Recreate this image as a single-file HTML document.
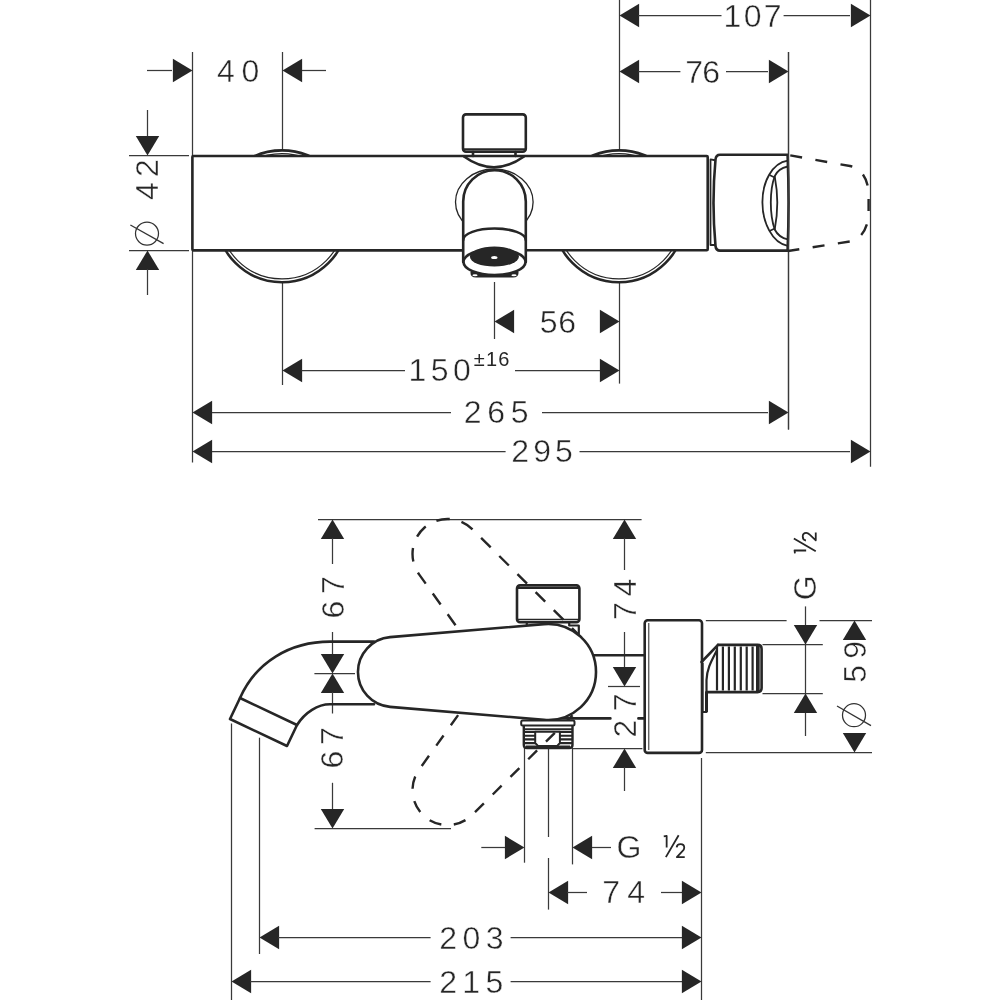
<!DOCTYPE html>
<html><head><meta charset="utf-8"><style>
html,body{margin:0;padding:0;background:#fff;}
svg{display:block;}
text{font-family:"Liberation Sans",sans-serif;}
#d{will-change:transform;}
</style></head><body>
<svg id="d" width="1000" height="1000" viewBox="0 0 1000 1000">
<rect width="1000" height="1000" fill="#fff"/>
<line x1="192.5" y1="52" x2="192.5" y2="462.4" stroke="#3a3a3a" stroke-width="1.25" fill="none"/>
<line x1="282.5" y1="52" x2="282.5" y2="160" stroke="#3a3a3a" stroke-width="1.25" fill="none"/>
<line x1="282.5" y1="270" x2="282.5" y2="385" stroke="#3a3a3a" stroke-width="1.25" fill="none"/>
<line x1="619.5" y1="0" x2="619.5" y2="160" stroke="#3a3a3a" stroke-width="1.25" fill="none"/>
<line x1="619.5" y1="270" x2="619.5" y2="383.6" stroke="#3a3a3a" stroke-width="1.25" fill="none"/>
<line x1="494.5" y1="282" x2="494.5" y2="339" stroke="#3a3a3a" stroke-width="1.25" fill="none"/>
<line x1="788.5" y1="52" x2="788.5" y2="429.4" stroke="#3a3a3a" stroke-width="1.25" fill="none"/>
<line x1="870.5" y1="0" x2="870.5" y2="466.8" stroke="#3a3a3a" stroke-width="1.25" fill="none"/>
<line x1="147" y1="70.5" x2="172" y2="70.5" stroke="#3a3a3a" stroke-width="1.25" fill="none"/>
<polygon points="192.50,70.50 172.90,58.80 172.90,82.20" fill="#262626"/>
<polygon points="282.50,70.50 302.10,58.80 302.10,82.20" fill="#262626"/>
<line x1="302" y1="70.5" x2="326" y2="70.5" stroke="#3a3a3a" stroke-width="1.25" fill="none"/>
<g transform="translate(237.80,70.70) rotate(0)"><text x="-20.92" y="11.00" font-size="32" letter-spacing="6.80" fill="#262626" stroke="#fff" stroke-width="0.45">40</text></g>
<polygon points="619.50,15.50 639.10,3.80 639.10,27.20" fill="#262626"/>
<line x1="638" y1="15.5" x2="721.5" y2="15.5" stroke="#3a3a3a" stroke-width="1.25" fill="none"/>
<line x1="783.6" y1="15.5" x2="850" y2="15.5" stroke="#3a3a3a" stroke-width="1.25" fill="none"/>
<polygon points="870.50,15.50 850.90,3.80 850.90,27.20" fill="#262626"/>
<g transform="translate(753.00,16.05) rotate(0)"><text x="-29.40" y="11.00" font-size="32" letter-spacing="2.32" fill="#262626" stroke="#fff" stroke-width="0.45">107</text></g>
<polygon points="619.50,71.50 639.10,59.80 639.10,83.20" fill="#262626"/>
<line x1="638" y1="71.5" x2="680.4" y2="71.5" stroke="#3a3a3a" stroke-width="1.25" fill="none"/>
<line x1="726" y1="71.5" x2="768" y2="71.5" stroke="#3a3a3a" stroke-width="1.25" fill="none"/>
<polygon points="788.50,71.50 768.90,59.80 768.90,83.20" fill="#262626"/>
<g transform="translate(702.75,71.70) rotate(0)"><text x="-17.43" y="11.00" font-size="32" letter-spacing="-0.98" fill="#262626" stroke="#fff" stroke-width="0.45">76</text></g>
<polygon points="494.50,321.50 514.10,309.80 514.10,333.20" fill="#262626"/>
<polygon points="619.50,321.50 599.90,309.80 599.90,333.20" fill="#262626"/>
<g transform="translate(557.85,321.55) rotate(0)"><text x="-18.13" y="11.00" font-size="32" letter-spacing="0.82" fill="#262626" stroke="#fff" stroke-width="0.45">56</text></g>
<polygon points="282.50,370.50 302.10,358.80 302.10,382.20" fill="#262626"/>
<line x1="301.5" y1="370.5" x2="405" y2="370.5" stroke="#3a3a3a" stroke-width="1.25" fill="none"/>
<line x1="515" y1="370.5" x2="600" y2="370.5" stroke="#3a3a3a" stroke-width="1.25" fill="none"/>
<polygon points="619.50,370.50 599.90,358.80 599.90,382.20" fill="#262626"/>
<g transform="translate(440.20,370.15) rotate(0)"><text x="-31.80" y="11.00" font-size="32" letter-spacing="4.52" fill="#262626" stroke="#fff" stroke-width="0.45">150</text></g>
<g transform="translate(491.45,359.15) rotate(0)"><text x="-17.70" y="6.88" font-size="20" letter-spacing="1.20" fill="#262626">±16</text></g>
<polygon points="192.50,412.50 212.10,400.80 212.10,424.20" fill="#262626"/>
<line x1="212" y1="412.5" x2="451" y2="412.5" stroke="#3a3a3a" stroke-width="1.25" fill="none"/>
<line x1="542" y1="412.5" x2="768" y2="412.5" stroke="#3a3a3a" stroke-width="1.25" fill="none"/>
<polygon points="788.50,412.50 768.90,400.80 768.90,424.20" fill="#262626"/>
<g transform="translate(496.25,412.05) rotate(0)"><text x="-32.55" y="11.00" font-size="32" letter-spacing="5.71" fill="#262626" stroke="#fff" stroke-width="0.45">265</text></g>
<polygon points="192.50,451.50 212.10,439.80 212.10,463.20" fill="#262626"/>
<line x1="212" y1="451.5" x2="505.6" y2="451.5" stroke="#3a3a3a" stroke-width="1.25" fill="none"/>
<line x1="579.5" y1="451.5" x2="850" y2="451.5" stroke="#3a3a3a" stroke-width="1.25" fill="none"/>
<polygon points="870.50,451.50 850.90,439.80 850.90,463.20" fill="#262626"/>
<g transform="translate(542.20,450.80) rotate(0)"><text x="-31.00" y="11.00" font-size="32" letter-spacing="4.16" fill="#262626" stroke="#fff" stroke-width="0.45">295</text></g>
<line x1="147.5" y1="110" x2="147.5" y2="136" stroke="#3a3a3a" stroke-width="1.25" fill="none"/>
<polygon points="147.50,155.50 135.80,135.90 159.20,135.90" fill="#262626"/>
<line x1="129" y1="155.5" x2="189" y2="155.5" stroke="#3a3a3a" stroke-width="1.25" fill="none"/>
<line x1="129" y1="250.5" x2="189" y2="250.5" stroke="#3a3a3a" stroke-width="1.25" fill="none"/>
<polygon points="147.50,250.50 135.80,270.10 159.20,270.10" fill="#262626"/>
<line x1="147.5" y1="269" x2="147.5" y2="295" stroke="#3a3a3a" stroke-width="1.25" fill="none"/>
<g transform="translate(147.00,180.20) rotate(-90)"><text x="-19.92" y="11.16" font-size="32" letter-spacing="5.20" fill="#262626" stroke="#fff" stroke-width="0.45">42</text></g>
<circle cx="147" cy="233.6" r="11.5" stroke="#333" stroke-width="1.25" fill="none"/>
<line x1="130.4" y1="225" x2="163.6" y2="243.6" stroke="#333" stroke-width="1.3"/>
<circle cx="282" cy="216.3" r="65.9" fill="#fff" stroke="#262626" stroke-width="2.6"/>
<circle cx="282" cy="216.3" r="62.6" fill="none" stroke="#262626" stroke-width="1.2"/>
<circle cx="619" cy="216.3" r="65.9" fill="#fff" stroke="#262626" stroke-width="2.6"/>
<circle cx="619" cy="216.3" r="62.6" fill="none" stroke="#262626" stroke-width="1.2"/>
<rect x="192.4" y="156" width="515.3" height="94.3" rx="1" fill="#fff" stroke="#262626" stroke-width="2.6"  stroke-linejoin="round" stroke-linecap="round"/>
<rect x="463" y="114.4" width="62.8" height="37.4" rx="3" fill="#fff" stroke="#262626" stroke-width="2.6"  stroke-linejoin="round" stroke-linecap="round"/>
<line x1="463.5" y1="149.3" x2="525.3" y2="149.3" stroke="#262626" stroke-width="2.2"/>
<path d="M473,152 V156 M515.5,152 V156" stroke="#262626" stroke-width="2.6" fill="none" stroke-linejoin="round" stroke-linecap="round"/>
<path d="M464,156.5 Q494,178 524,156.5" stroke="#262626" stroke-width="2.6" fill="none" stroke-linejoin="round" stroke-linecap="round"/>
<ellipse cx="494.3" cy="202" rx="38.8" ry="33" fill="#fff" stroke="#262626" stroke-width="1.3"/>
<path d="M463.2,262 V201.5 A31.3,31.3 0 0 1 525.8,201.5 V262" fill="#fff" stroke="#262626" stroke-width="2.6"  stroke-linejoin="round" stroke-linecap="round"/>
<path d="M463.2,240 A31.3,11.5 0 0 1 525.8,240" stroke="#262626" stroke-width="2.6" fill="none" stroke-linejoin="round" stroke-linecap="round"/>
<line x1="192" y1="250.3" x2="463" y2="250.3" stroke="#262626" stroke-width="2.6"/>
<path d="M470.5,272 Q470,277.5 476,277.5 H513 Q519,277.5 518.5,272 Z" fill="#262626"/>
<ellipse cx="494.5" cy="262" rx="31" ry="13" fill="#fff" stroke="#262626" stroke-width="2.6"/>
<ellipse cx="494.4" cy="256.6" rx="24.5" ry="10" fill="#262626"/>
<ellipse cx="475" cy="275.3" rx="2.6" ry="1" fill="#fff"/><ellipse cx="514" cy="275.3" rx="2.6" ry="1" fill="#fff"/>
<ellipse cx="494.3" cy="257.5" rx="3.2" ry="1.6" fill="#fff"/>
<path d="M710.5,159.4 L716.5,160.5 Q711,202.5 716.5,245 L710.5,245 Z" fill="#fff" stroke="#262626" stroke-width="1.8" stroke-linejoin="round"/>
<path d="M720,154.8 H787.6 Q789.5,202.7 787.6,250.6 H720 Q716,250.6 715.5,246 Q711.5,202.7 715.5,159.5 Q716,154.8 720,154.8 Z" fill="#fff" stroke="#262626" stroke-width="2.6"  stroke-linejoin="round" stroke-linecap="round"/>
<path d="M787.7,160.6 C772,163 762.4,182 762.4,202.2 C762.4,222 772,243 787.7,245.8" stroke="#262626" stroke-width="1.8" fill="none"/>
<path d="M787.7,166.5 C781,168 777,171 774.7,176.2 C771.5,185 770.8,195 770.8,202.5 C770.8,210 771.5,220 774.7,229.5 C777,234 781,238 787.7,239.3" stroke="#262626" stroke-width="1.8" fill="none"/>
<path d="M774.7,176.2 C776.5,186 777.3,195 777.3,202.5 C777.3,210 776.5,220 774.7,229.5" stroke="#262626" stroke-width="1.8" fill="none"/>
<path d="M769.5,175 L774.7,177.5 M769.5,231 L774.7,228.5" stroke="#262626" stroke-width="1.6" fill="none"/>
<line x1="788.5" y1="52" x2="788.5" y2="429.4" stroke="#3a3a3a" stroke-width="1.25" fill="none"/>
<path d="M788,155 L850,166 C862,168.5 868.6,180 868.6,195 L868.6,212 C868.6,227 862,239 850,241.5 L788,251" stroke="#262626" stroke-width="2.4" fill="none" stroke-dasharray="12 13.5" stroke-dashoffset="23.2"/>
<line x1="318" y1="519.5" x2="641.6" y2="519.5" stroke="#3a3a3a" stroke-width="1.25" fill="none"/>
<polygon points="332.50,519.50 320.80,539.10 344.20,539.10" fill="#262626"/>
<line x1="332.5" y1="538" x2="332.5" y2="564" stroke="#3a3a3a" stroke-width="1.25" fill="none"/>
<g transform="translate(332.50,597.50) rotate(-90)"><text x="-21.10" y="11.00" font-size="32" letter-spacing="6.68" fill="#262626" stroke="#fff" stroke-width="0.45">67</text></g>
<line x1="332.5" y1="632" x2="332.5" y2="655" stroke="#3a3a3a" stroke-width="1.25" fill="none"/>
<polygon points="332.50,673.50 320.80,653.90 344.20,653.90" fill="#262626"/>
<line x1="314.4" y1="673.5" x2="355" y2="673.5" stroke="#3a3a3a" stroke-width="1.25" fill="none"/>
<polygon points="332.50,673.50 320.80,693.10 344.20,693.10" fill="#262626"/>
<line x1="332.5" y1="692" x2="332.5" y2="713.5" stroke="#3a3a3a" stroke-width="1.25" fill="none"/>
<g transform="translate(331.50,748.00) rotate(-90)"><text x="-20.60" y="11.00" font-size="32" letter-spacing="5.68" fill="#262626" stroke="#fff" stroke-width="0.45">67</text></g>
<line x1="332.5" y1="782.8" x2="332.5" y2="809" stroke="#3a3a3a" stroke-width="1.25" fill="none"/>
<polygon points="332.50,828.50 320.80,808.90 344.20,808.90" fill="#262626"/>
<line x1="314.6" y1="828.5" x2="451" y2="828.5" stroke="#3a3a3a" stroke-width="1.25" fill="none"/>
<polygon points="624.50,519.50 612.80,539.10 636.20,539.10" fill="#262626"/>
<line x1="624.5" y1="538" x2="624.5" y2="570" stroke="#3a3a3a" stroke-width="1.25" fill="none"/>
<g transform="translate(624.80,599.00) rotate(-90)"><text x="-21.08" y="11.00" font-size="32" letter-spacing="5.84" fill="#262626" stroke="#fff" stroke-width="0.45">74</text></g>
<line x1="624.5" y1="632" x2="624.5" y2="667" stroke="#3a3a3a" stroke-width="1.25" fill="none"/>
<polygon points="624.50,686.50 612.80,666.90 636.20,666.90" fill="#262626"/>
<line x1="608" y1="686.5" x2="640" y2="686.5" stroke="#3a3a3a" stroke-width="1.25" fill="none"/>
<g transform="translate(624.40,715.60) rotate(-90)"><text x="-22.00" y="11.16" font-size="32" letter-spacing="8.48" fill="#262626" stroke="#fff" stroke-width="0.45">27</text></g>
<polygon points="624.50,748.50 612.80,768.10 636.20,768.10" fill="#262626"/>
<line x1="624.5" y1="767" x2="624.5" y2="791" stroke="#3a3a3a" stroke-width="1.25" fill="none"/>
<line x1="572" y1="748.5" x2="642.4" y2="748.5" stroke="#3a3a3a" stroke-width="1.25" fill="none"/>
<line x1="805.5" y1="606.4" x2="805.5" y2="736" stroke="#3a3a3a" stroke-width="1.25" fill="none"/>
<polygon points="805.50,644.50 793.80,624.90 817.20,624.90" fill="#262626"/>
<polygon points="805.50,693.50 793.80,713.10 817.20,713.10" fill="#262626"/>
<g transform="translate(804.85,587.50) rotate(-90)"><text x="-12.80" y="11.00" font-size="32" letter-spacing="0.00" fill="#262626" stroke="#fff" stroke-width="0.45">G</text></g>
<g transform="translate(804.85,542.90) rotate(-90) translate(-10.7,-11.1)"><path d="M0.2,1.2 L3.1,0.8 V12.4 M2.3,22 L15.1,0.1 M13.1,12.2 C13.3,10.2 15,9 17,9 C19.2,9 20.7,10.5 20.7,12.5 C20.7,14 19.9,15 18.9,16 L13.3,22 H21.2" stroke="#262626" stroke-width="1.8" fill="none" stroke-linejoin="round"/></g>
<line x1="705.8" y1="620.5" x2="786.6" y2="620.5" stroke="#3a3a3a" stroke-width="1.25" fill="none"/>
<line x1="819.5" y1="620.5" x2="872" y2="620.5" stroke="#3a3a3a" stroke-width="1.25" fill="none"/>
<line x1="762.5" y1="644.5" x2="822.8" y2="644.5" stroke="#3a3a3a" stroke-width="1.25" fill="none"/>
<line x1="762.5" y1="693.5" x2="822.8" y2="693.5" stroke="#3a3a3a" stroke-width="1.25" fill="none"/>
<line x1="705.8" y1="752.5" x2="872" y2="752.5" stroke="#3a3a3a" stroke-width="1.25" fill="none"/>
<polygon points="854.50,620.50 842.80,640.10 866.20,640.10" fill="#262626"/>
<polygon points="854.50,752.50 842.80,732.90 866.20,732.90" fill="#262626"/>
<g transform="translate(854.65,661.90) rotate(-90)"><text x="-20.78" y="11.00" font-size="32" letter-spacing="6.20" fill="#262626" stroke="#fff" stroke-width="0.45">59</text></g>
<circle cx="854" cy="715.2" r="11.5" stroke="#333" stroke-width="1.25" fill="none"/>
<line x1="837" y1="706" x2="871" y2="725.6" stroke="#333" stroke-width="1.3"/>
<line x1="481.3" y1="847.5" x2="505" y2="847.5" stroke="#3a3a3a" stroke-width="1.25" fill="none"/>
<polygon points="524.50,847.50 504.90,835.80 504.90,859.20" fill="#262626"/>
<polygon points="572.50,847.50 592.10,835.80 592.10,859.20" fill="#262626"/>
<line x1="592" y1="847.5" x2="611" y2="847.5" stroke="#3a3a3a" stroke-width="1.25" fill="none"/>
<g transform="translate(629.50,846.80) rotate(0)"><text x="-13.10" y="11.00" font-size="32" letter-spacing="0.00" fill="#262626" stroke="#fff" stroke-width="0.45">G</text></g>
<g transform="translate(674.25,846.25) rotate(0) translate(-10.7,-11.1)"><path d="M0.2,1.2 L3.1,0.8 V12.4 M2.3,22 L15.1,0.1 M13.1,12.2 C13.3,10.2 15,9 17,9 C19.2,9 20.7,10.5 20.7,12.5 C20.7,14 19.9,15 18.9,16 L13.3,22 H21.2" stroke="#262626" stroke-width="1.8" fill="none" stroke-linejoin="round"/></g>
<line x1="524.5" y1="748" x2="524.5" y2="862.7" stroke="#3a3a3a" stroke-width="1.25" fill="none"/>
<line x1="548.5" y1="749" x2="548.5" y2="837" stroke="#3a3a3a" stroke-width="1.25" fill="none"/>
<line x1="548.5" y1="858" x2="548.5" y2="909.6" stroke="#3a3a3a" stroke-width="1.25" fill="none"/>
<line x1="572.5" y1="748" x2="572.5" y2="864.4" stroke="#3a3a3a" stroke-width="1.25" fill="none"/>
<polygon points="548.50,892.50 568.10,880.80 568.10,904.20" fill="#262626"/>
<line x1="567" y1="892.5" x2="587" y2="892.5" stroke="#3a3a3a" stroke-width="1.25" fill="none"/>
<line x1="661" y1="892.5" x2="682" y2="892.5" stroke="#3a3a3a" stroke-width="1.25" fill="none"/>
<polygon points="701.50,892.50 681.90,880.80 681.90,904.20" fill="#262626"/>
<g transform="translate(624.00,892.00) rotate(0)"><text x="-21.68" y="11.00" font-size="32" letter-spacing="7.04" fill="#262626" stroke="#fff" stroke-width="0.45">74</text></g>
<line x1="701.5" y1="758" x2="701.5" y2="1000" stroke="#3a3a3a" stroke-width="1.25" fill="none"/>
<polygon points="259.50,937.50 279.10,925.80 279.10,949.20" fill="#262626"/>
<line x1="278" y1="937.5" x2="430.6" y2="937.5" stroke="#3a3a3a" stroke-width="1.25" fill="none"/>
<line x1="510.6" y1="937.5" x2="682" y2="937.5" stroke="#3a3a3a" stroke-width="1.25" fill="none"/>
<polygon points="701.50,937.50 681.90,925.80 681.90,949.20" fill="#262626"/>
<g transform="translate(471.50,937.60) rotate(0)"><text x="-32.30" y="11.00" font-size="32" letter-spacing="5.50" fill="#262626" stroke="#fff" stroke-width="0.45">203</text></g>
<line x1="259.5" y1="737.7" x2="259.5" y2="954" stroke="#3a3a3a" stroke-width="1.25" fill="none"/>
<polygon points="231.50,981.50 251.10,969.80 251.10,993.20" fill="#262626"/>
<line x1="250" y1="981.5" x2="430.6" y2="981.5" stroke="#3a3a3a" stroke-width="1.25" fill="none"/>
<line x1="510.6" y1="981.5" x2="682" y2="981.5" stroke="#3a3a3a" stroke-width="1.25" fill="none"/>
<polygon points="701.50,981.50 681.90,969.80 681.90,993.20" fill="#262626"/>
<g transform="translate(471.40,982.30) rotate(0)"><text x="-32.20" y="11.00" font-size="32" letter-spacing="5.36" fill="#262626" stroke="#fff" stroke-width="0.45">215</text></g>
<line x1="231.5" y1="723.4" x2="231.5" y2="1000" stroke="#3a3a3a" stroke-width="1.25" fill="none"/>
<path d="M374,641.6 H330 C290,641.6 256,662 240,698 L230,719 L287,746 L297,725 C305,712 318,704.3 330,704.3 H374" stroke="#262626" stroke-width="2.6" fill="none" stroke-linejoin="round" stroke-linecap="round"/>
<path d="M240,698 L297,725" stroke="#262626" stroke-width="2.6" fill="none" stroke-linejoin="round" stroke-linecap="round"/>
<path d="M543.97,624.17 L390.06,637.12 A35,35 0 0 0 390.06,706.88 L543.97,719.83" transform="rotate(49.6 548 672)" stroke="#262626" stroke-width="2.4" fill="none" stroke-dasharray="13.5 12.1" stroke-dashoffset="25.2"/>
<path d="M543.97,624.17 L390.06,637.12 A35,35 0 0 0 390.06,706.88 L543.97,719.83" transform="rotate(-49.6 548 672)" stroke="#262626" stroke-width="2.4" fill="none" stroke-dasharray="12.5 12.5" stroke-dashoffset="12.6"/>
<path d="M560,655.2 H644 M560,718.4 H610.4 M638.4,718.4 H644" stroke="#262626" stroke-width="2.6" fill="none" stroke-linejoin="round" stroke-linecap="round"/>
<rect x="517" y="585.4" width="62.4" height="36.8" rx="3" stroke="#262626" stroke-width="2.6" fill="none" stroke-linejoin="round" stroke-linecap="round"/>
<line x1="517.5" y1="588" x2="579" y2="588" stroke="#262626" stroke-width="1.8"/>
<line x1="517.5" y1="619.6" x2="579" y2="619.6" stroke="#262626" stroke-width="1.5"/>
<path d="M526.8,622.2 V625.5 M569.2,622.2 V625.5 H578.8 V634" stroke="#262626" stroke-width="2.2" fill="none" stroke-linejoin="round"/>
<path d="M543.97,624.17 L390.06,637.12 A35,35 0 0 0 390.06,706.88 L543.97,719.83 A48,48 0 1 0 543.97,624.17 Z" fill="#fff" stroke="#262626" stroke-width="2.6"  stroke-linejoin="round" stroke-linecap="round"/>
<rect x="521.2" y="720.6" width="53.3" height="4.9" rx="1.5" fill="#fff" stroke="#262626" stroke-width="2"/>
<path d="M523.8,725.5 V745 Q523.8,748 527,748 H569.3 Q572.5,748 572.5,745 V725.5" stroke="#262626" stroke-width="2.4" fill="none"/>
<path d="M524,729.3 H572" stroke="#262626" stroke-width="2"/>
<path d="M524,732 H535.5 M524,735.7 H535.5 M524,739.4 H535.5 M524,743.1 H535.5 M559.5,732 H572 M559.5,735.7 H572 M559.5,739.4 H572 M559.5,743.1 H572 M526,746.5 H570" stroke="#262626" stroke-width="2.1"/>
<path d="M535.2,731.8 H559.9 V743 L557,746.1 H538.2 L535.2,743 Z" stroke="#262626" stroke-width="2" fill="none" stroke-linejoin="round"/>
<rect x="644.7" y="620.3" width="57.3" height="132.6" rx="3" fill="#fff" stroke="#262626" stroke-width="2.6"  stroke-linejoin="round" stroke-linecap="round"/>
<line x1="648.8" y1="623" x2="648.8" y2="750" stroke="#262626" stroke-width="1"/>
<path d="M718,644.9 H757.5 Q761.6,644.9 761.6,649 V688 Q761.6,692.1 757.5,692.1 H706.5" fill="#fff" stroke="#262626" stroke-width="2.6"  stroke-linejoin="round" stroke-linecap="round"/>
<path d="M717.0,646.5 V690.5 M722.9,646.5 V690.5 M728.9,646.5 V690.5 M734.8,646.5 V690.5 M740.8,646.5 V690.5 M746.7,646.5 V690.5 M752.6,646.5 V690.5 M758.6,646.5 V690.5" stroke="#262626" stroke-width="2.2"/>
<path d="M757.5,646 V691" stroke="#262626" stroke-width="3"/>
<path d="M701.5,662 L718,644.9" stroke="#262626" stroke-width="2.6" fill="none" stroke-linejoin="round" stroke-linecap="round"/>
<path d="M717,650 C712,660 707,668 706.5,680 V712 H702.5 V663" stroke="#262626" stroke-width="2.2" fill="none" stroke-linejoin="round"/>
<path d="M706.5,692 V712" stroke="#262626" stroke-width="3"/>
</svg></body></html>
